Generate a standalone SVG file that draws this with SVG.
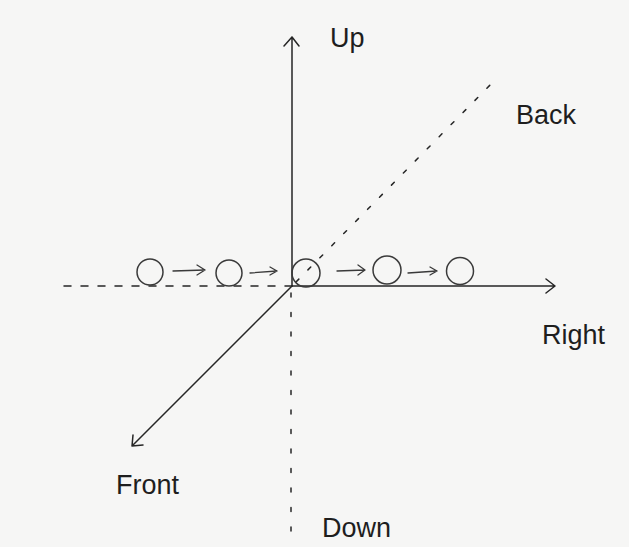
<svg xmlns="http://www.w3.org/2000/svg" width="629" height="547" viewBox="0 0 629 547">
<style>
.ax{stroke:#262626;stroke-width:1.5;fill:none;stroke-linecap:round;stroke-linejoin:round}
.ball{stroke:#3a3a3a;stroke-width:1.5;fill:none}
.mv{stroke:#3a3a3a;stroke-width:1.3;fill:none;stroke-linecap:round;stroke-linejoin:round}
.lbl{font-family:"Liberation Sans",Arial,sans-serif;font-size:27px;fill:#1e1e1e}
</style>
<rect width="629" height="547" fill="#f6f6f5"/>
<g id="connectors">
  <path class="ax" d="M292,286 V37 M284,46 L292,37 L299,46"/>
  <path class="ax" d="M292,286 H555 M546,279 L555,286 L546,293"/>
  <path class="ax" d="M292,286 L132,446 M133,435 L132,446 L143,445"/>
  <path class="ax" d="M64,286 H292" stroke-dasharray="7 10"/>
  <path class="ax" d="M291,293 V540" stroke-dasharray="4 15.5"/>
  <path class="ax" d="M296,282 L496,79" stroke-dasharray="4 13"/>
</g>
<g id="motion-arrows">
  <path class="mv" d="M173,271 L205,270 M197,265 L205,270 L197,275"/>
  <path class="mv" d="M250,273 L277,271 M270,267 L277,271 L270,275"/>
  <path class="mv" d="M337,271 L365,270 M358,265 L365,270 L358,275"/>
  <path class="mv" d="M408,273 L437,271 M430,267 L437,271 L430,275"/>
</g>
<g id="ball1"><circle class="ball" cx="150" cy="272" r="13"/></g>
<g id="ball2"><circle class="ball" cx="229" cy="273" r="13"/></g>
<g id="ball3"><circle class="ball" cx="306" cy="273" r="14"/></g>
<g id="ball4"><circle class="ball" cx="387" cy="270" r="14"/></g>
<g id="ball5"><circle class="ball" cx="460" cy="271" r="13.5"/></g>
<g id="label-up"><text class="lbl" x="330" y="47">Up</text></g>
<g id="label-back"><text class="lbl" x="516" y="124">Back</text></g>
<g id="label-right"><text class="lbl" x="542" y="344">Right</text></g>
<g id="label-front"><text class="lbl" x="116" y="494">Front</text></g>
<g id="label-down"><text class="lbl" x="322" y="537">Down</text></g>
</svg>
